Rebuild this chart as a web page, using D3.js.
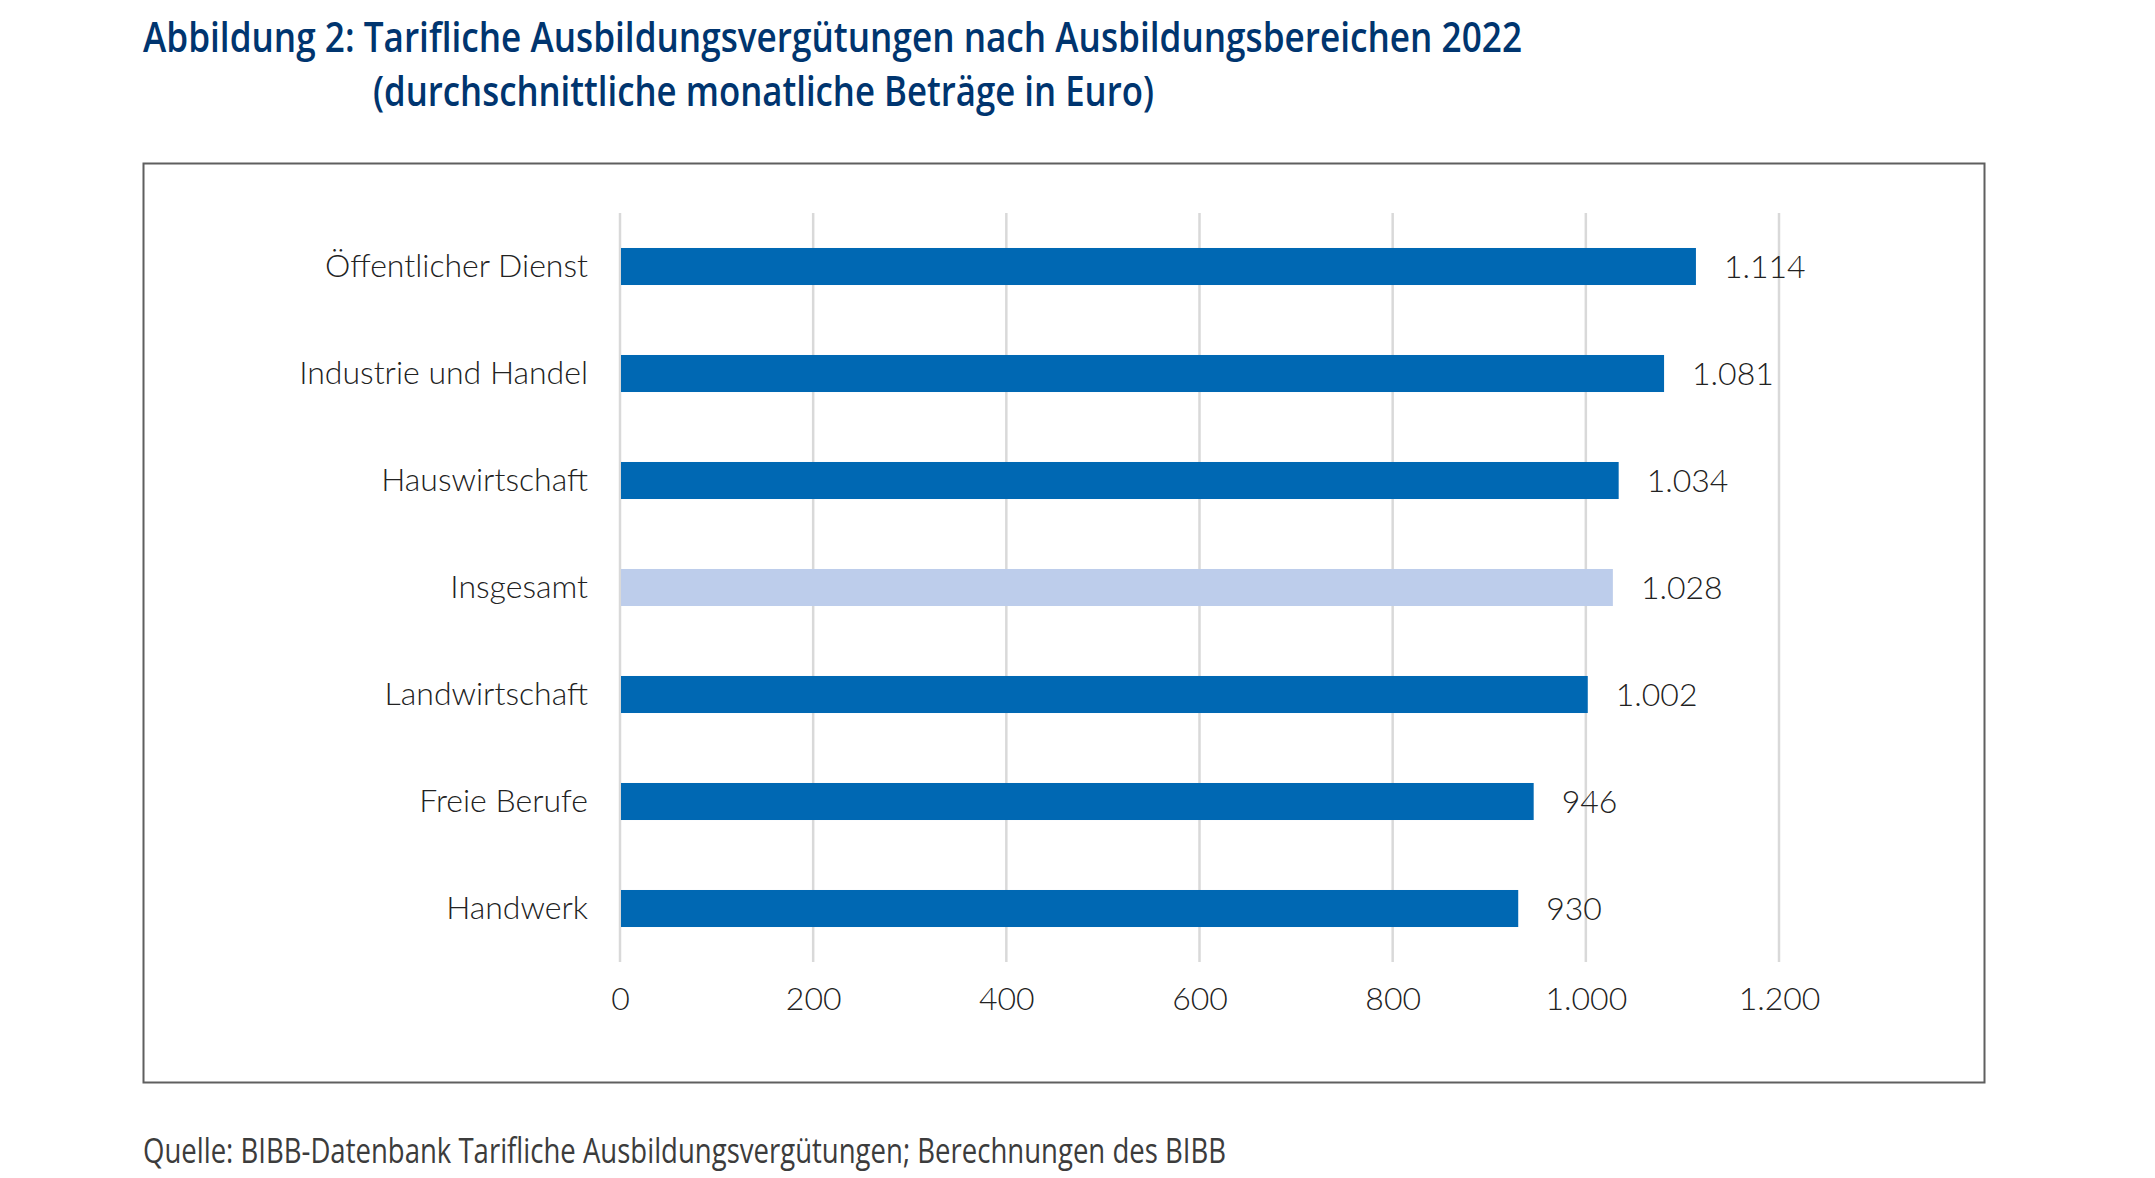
<!DOCTYPE html>
<html>
<head>
<meta charset="utf-8">
<script src="https://cdn.jsdelivr.net/npm/d3@7"></script>
<style>
  body { margin: 0; background: #fff; }
  svg { display: block; }
</style>
</head>
<body>
<script>
// Daten: tarifliche Ausbildungsvergütungen 2022 (Euro pro Monat)
var categories = ['Öffentlicher Dienst', 'Industrie und Handel', 'Hauswirtschaft', 'Insgesamt',
                  'Landwirtschaft', 'Freie Berufe', 'Handwerk'];
var values = [1114, 1081, 1034, 1028, 1002, 946, 930];
var tickValues = [0, 200, 400, 600, 800, 1000, 1200];
var highlight = 'Insgesamt';

var width = 2155, height = 1178;
var fmt = d3.formatLocale({ decimal: ',', thousands: '.', grouping: [3], currency: ['', '€'] }).format(',d');

var svg = d3.select('body').append('svg').attr('width', width).attr('height', height);

// Titel
var title = svg.append('g').attr('fill', '#00356f')
    .attr('font-family', '"Open Sans", sans-serif').attr('font-weight', 600).attr('font-size', 42);
title.append('text').attr('x', 143).attr('y', 52)
    .attr('textLength', 1379).attr('lengthAdjust', 'spacingAndGlyphs')
    .text('Abbildung 2: Tarifliche Ausbildungsvergütungen nach Ausbildungsbereichen 2022');
title.append('text').attr('x', 373).attr('y', 106)
    .attr('textLength', 781).attr('lengthAdjust', 'spacingAndGlyphs')
    .text('(durchschnittliche monatliche Beträge in Euro)');

// Rahmen
svg.append('rect').attr('x', 143.5).attr('y', 163.5).attr('width', 1841).attr('height', 919)
    .attr('fill', 'none').attr('stroke', '#5f5f5f').attr('stroke-width', 2);

var x = d3.scaleLinear().domain([0, 1200]).range([620, 1779]);
var y = d3.scaleBand().domain(categories).range([213, 962])
    .paddingInner(0.654).paddingOuter(0.327);

// Gitterlinien
svg.append('g').selectAll('line').data(tickValues).enter().append('line')
    .attr('x1', function(d){ return x(d); }).attr('x2', function(d){ return x(d); })
    .attr('y1', 213).attr('y2', 962)
    .attr('stroke', '#d9d9d9').attr('stroke-width', 2.5);

// x-Achse
var xAxis = svg.append('g').attr('transform', 'translate(0,' + 962 + ')')
    .call(d3.axisBottom(x).tickValues(tickValues).tickFormat(fmt).tickSize(0).tickPadding(25));
xAxis.select('.domain').remove();
xAxis.selectAll('text').attr('font-family', 'Lato, sans-serif').attr('font-weight', 300)
    .attr('font-size', 32).attr('fill', '#222');

// y-Achse
var yAxis = svg.append('g').attr('transform', 'translate(' + 620 + ',0)')
    .call(d3.axisLeft(y).tickSize(0).tickPadding(32));
yAxis.select('.domain').remove();
yAxis.selectAll('text').attr('font-family', 'Lato, sans-serif').attr('font-weight', 300)
    .attr('font-size', 32).attr('fill', '#222');

// Balken
svg.append('g').selectAll('rect').data(values).enter().append('rect')
    .attr('x', x(0) + 1)
    .attr('y', function(d, i){ return y(categories[i]); })
    .attr('width', function(d){ return x(d) - x(0) - 1; })
    .attr('height', y.bandwidth())
    .attr('fill', function(d, i){ return categories[i] === highlight ? '#bdcdeb' : '#0068b3'; });

// Werte
svg.append('g').selectAll('text').data(values).enter().append('text')
    .attr('x', function(d){ return x(d) + 28; })
    .attr('y', function(d, i){ return y(categories[i]) + y.bandwidth() / 2; })
    .attr('dy', '0.36em')
    .attr('font-family', 'Lato, sans-serif').attr('font-weight', 300).attr('font-size', 32)
    .attr('fill', '#222')
    .text(function(d){ return fmt(d); });

// Quelle
svg.append('text').attr('x', 143).attr('y', 1163)
    .attr('font-family', '"Open Sans", sans-serif').attr('font-size', 34).attr('fill', '#3c3c3c')
    .attr('textLength', 1083).attr('lengthAdjust', 'spacingAndGlyphs')
    .text('Quelle: BIBB-Datenbank Tarifliche Ausbildungsvergütungen; Berechnungen des BIBB');
</script>
</body>
</html>
